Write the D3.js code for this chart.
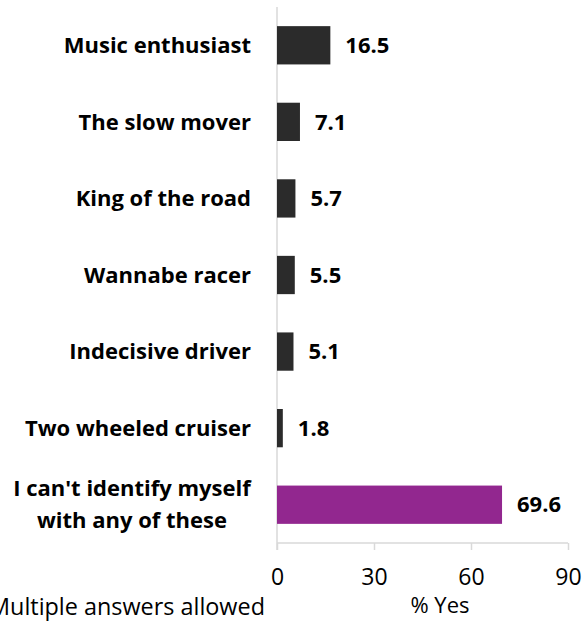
<!DOCTYPE html>
<html>
<head>
<meta charset="utf-8">
<style>
  body { margin: 0; background: #fff; }
  text { font-family: "Open Sans", sans-serif; }
</style>
</head>
<body>
<svg id="svg"></svg>
<script src="https://cdn.jsdelivr.net/npm/d3@7"></script>
<script>
  var categories = ["Music enthusiast", "The slow mover", "King of the road", "Wannabe racer",
    "Indecisive driver", "Two wheeled cruiser", "I can't identify myself|with any of these"];
  var values = [16.5, 7.1, 5.7, 5.5, 5.1, 1.8, 69.6];
  var tickValues = [0, 30, 60, 90];

  var width = 584, height = 623;
  var svg = d3.select("#svg").attr("width", width).attr("height", height);

  var x = d3.scaleLinear().domain([0, 90]).range([277, 568]);
  var y = d3.scaleBand().domain(categories).range([7, 543]).paddingInner(0.5).paddingOuter(0.25);

  // axis lines (light gray)
  svg.append("line")
    .attr("x1", x(0)).attr("x2", x(90))
    .attr("y1", 543).attr("y2", 543)
    .attr("stroke", "#d9d9d9").attr("stroke-width", 1.5);

  var axis = d3.axisBottom(x).tickValues(tickValues).tickSize(7).tickPadding(19);
  var g = svg.append("g").attr("transform", "translate(0,543)").call(axis);
  g.select(".domain").remove();
  g.selectAll(".tick line").attr("stroke", "#d9d9d9").attr("stroke-width", 1.5);
  g.selectAll(".tick text").attr("font-size", 23).attr("font-family", "'Open Sans', sans-serif").attr("fill", "#000");

  svg.append("line")
    .attr("x1", x(0)).attr("x2", x(0))
    .attr("y1", 7).attr("y2", 550)
    .attr("stroke", "#d9d9d9").attr("stroke-width", 1.5);

  // bars
  svg.selectAll("rect.bar")
    .data(values)
    .enter()
    .append("rect")
    .attr("class", "bar")
    .attr("x", x(0))
    .attr("y", function (d, i) { return y(categories[i]); })
    .attr("width", function (d) { return x(d) - x(0); })
    .attr("height", y.bandwidth())
    .attr("fill", function (d, i) { return i == categories.length - 1 ? "#92278f" : "#2b2b2b"; });

  // value labels
  svg.selectAll("text.val")
    .data(values)
    .enter()
    .append("text")
    .attr("class", "val")
    .attr("x", function (d) { return x(d) + 15; })
    .attr("y", function (d, i) { return y(categories[i]) + y.bandwidth() / 2; })
    .attr("dy", "0.35em")
    .attr("font-size", 22)
    .attr("font-weight", "bold")
    .attr("fill", "#000")
    .text(function (d) { return d.toFixed(1); });

  // category labels
  svg.selectAll("text.cat")
    .data(categories)
    .enter()
    .append("text")
    .attr("class", "cat")
    .attr("text-anchor", "middle")
    .attr("font-size", 22)
    .attr("font-weight", "bold")
    .attr("fill", "#000")
    .each(function (d) {
      var lines = d.split("|");
      var cy = y(d) + y.bandwidth() / 2;
      var t = d3.select(this);
      lines.forEach(function (l, j) {
        t.append("tspan")
          .attr("x", lines.length > 1 ? 132 : 251)
          .attr("y", cy + (j - (lines.length - 1) / 2) * 32)
          .attr("dy", "0.35em")
          .text(l);
      });
      if (lines.length == 1) t.attr("text-anchor", "end");
    });

  svg.append("text")
    .attr("x", 440).attr("y", 613)
    .attr("text-anchor", "middle")
    .attr("font-size", 22)
    .text("% Yes");

  svg.append("text")
    .attr("x", -11).attr("y", 615)
    .attr("font-size", 23.4)
    .text("Multiple answers allowed");
</script>
</body>
</html>
